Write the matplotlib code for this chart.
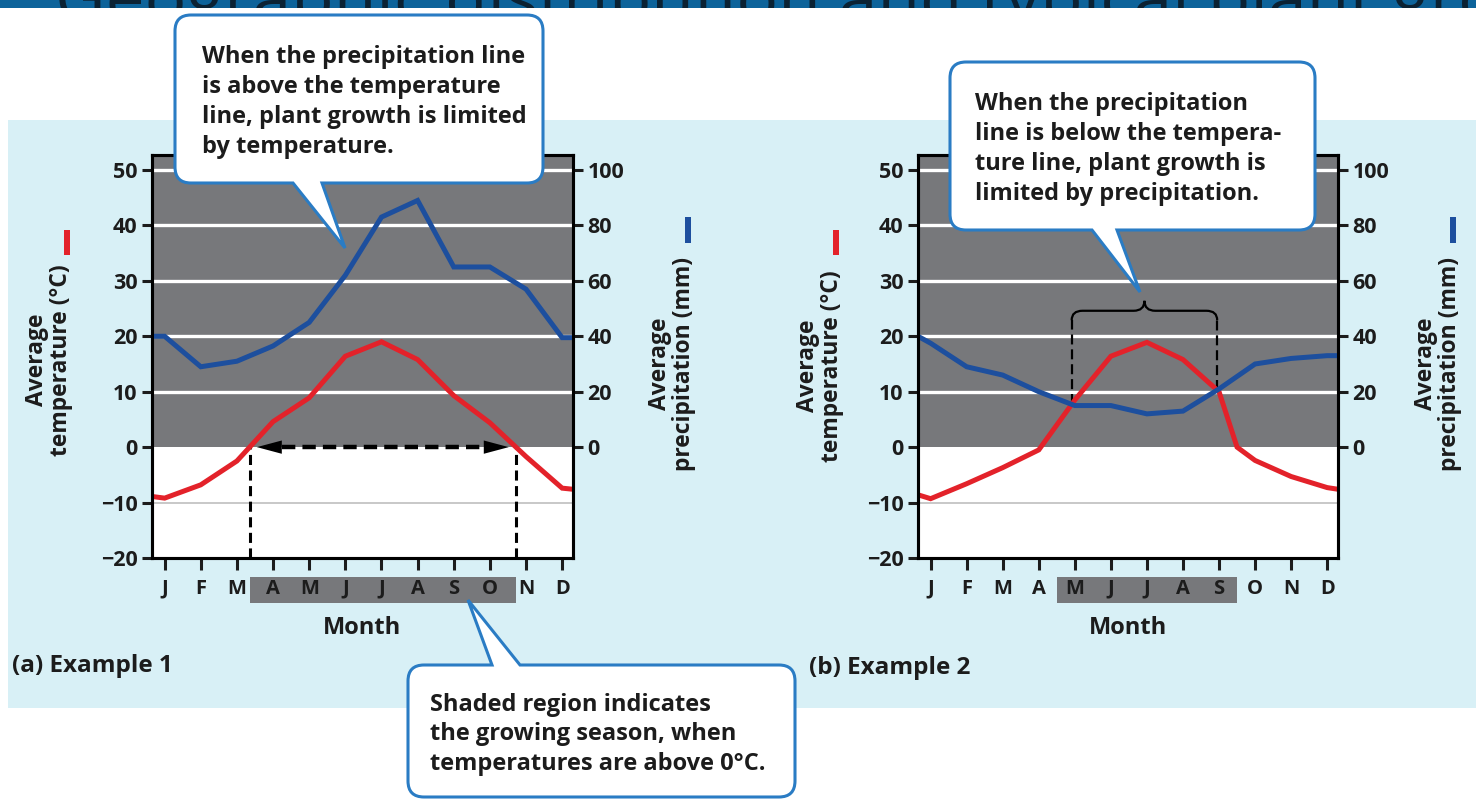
"""
Climate diagrams: average temperature vs. average precipitation,
two examples with the growing season marked.
"""
import numpy as np
import matplotlib
matplotlib.use("Agg")
import matplotlib.pyplot as plt
from matplotlib.patches import Rectangle, PathPatch
from matplotlib.path import Path
from matplotlib.transforms import blended_transform_factory

W, H = 1476, 800

plt.rcParams['font.family'] = ['Open Sans', 'DejaVu Sans']
plt.rcParams['font.weight'] = 'bold'

RED = '#e3222a'
BLUE = '#1d4f9e'
GRAY = '#77787b'
BG = '#d8f0f6'
EDGE = '#2a7cc4'
INK = '#1c1c1c'

months = ['J', 'F', 'M', 'A', 'M', 'J', 'J', 'A', 'S', 'O', 'N', 'D']
temp_ticks = [-20, -10, 0, 10, 20, 30, 40, 50]
prec_ticks = [0, 20, 40, 60, 80, 100]
temp_lim = (-20, 52.7)

# (a) Example 1
ex1_temp_x = [-0.35, 0, 1, 2, 3, 4, 5, 6, 7, 8, 9, 10, 11, 11.3]
ex1_temp   = [-8.9, -9.2, -6.8, -2.5, 4.6, 8.9, 16.4, 19.0, 15.8, 9.3, 4.4, -1.7, -7.4, -7.6]
ex1_prec_x = [-0.35, 0, 1, 2, 3, 4, 5, 6, 7, 8, 9, 10, 11, 11.3]
ex1_prec   = [40, 40, 29, 31, 36.5, 45, 62, 83, 89, 65, 65, 57, 39.5, 39.5]

# (b) Example 2
ex2_temp_x = [-0.35, 0, 1, 2, 3, 4, 5, 6, 7, 8, 8.5, 9, 10, 11, 11.3]
ex2_temp   = [-8.6, -9.3, -6.6, -3.7, -0.5, 8.5, 16.4, 18.9, 15.8, 10.0, 0.0, -2.4, -5.3, -7.3, -7.6]
ex2_prec_x = [-0.35, 0, 1, 2, 3, 4, 5, 6, 7, 8, 9, 10, 11, 11.3]
ex2_prec   = [40, 37.5, 29, 26, 20, 15, 15, 12, 13, 21, 30, 32, 33, 33]
ex2_season = ('M', 'S')  # highlighted month labels (May..Sep)

callout_a = ["When the precipitation line",
             "is above the temperature",
             "line, plant growth is limited",
             "by temperature."]
callout_b = ["When the precipitation",
             "line is below the tempera-",
             "ture line, plant growth is",
             "limited by precipitation."]
callout_c = ["Shaded region indicates",
             "the growing season, when",
             "temperatures are above 0\u00b0C."]


def fx(px):
    return px / W


def fy(py):
    return 1 - py / H


def crossings(xa, ya, xb, yb):
    xs = np.linspace(max(xa[0], xb[0]), min(xa[-1], xb[-1]), 4001)
    d = np.interp(xs, xa, ya) - np.interp(xs, xb, yb)
    idx = np.where(np.diff(np.sign(d)) != 0)[0]
    return [xs[i] - d[i] * (xs[i + 1] - xs[i]) / (d[i + 1] - d[i]) for i in idx]


fig = plt.figure(figsize=(W / 100, H / 100), dpi=100)
fig.patch.set_facecolor('white')

# light blue page panel and the clipped banner at the very top
fig.add_artist(Rectangle((fx(8), fy(708)), 1 - fx(8), (708 - 120) / H,
                         transform=fig.transFigure, color=BG, lw=0, zorder=-10))
band = Rectangle((0, fy(8)), 1, 8 / H, transform=fig.transFigure,
                 color='#0d639a', lw=0, zorder=1)
fig.add_artist(band)
ttl = fig.text(fx(55), fy(22), 'Geographic distribution and typical plant growth',
               fontsize=50, fontweight='normal', color='#0b2233', va='baseline', zorder=2)
ttl.set_clip_path(band)


def panel(left_px, right_px, tx, t, px_, p):
    ax = fig.add_axes([fx(left_px), fy(558), fx(right_px) - fx(left_px), (558 - 155) / H])
    ax.set_facecolor('white')
    ax.set_xlim(-0.35, 11.3)
    ax.set_ylim(*temp_lim)
    ax.axhspan(0, temp_lim[1] + 5, color=GRAY, lw=0, zorder=0)
    for v in temp_ticks:
        if v > 0:
            ax.axhline(v, color='white', lw=2.4, zorder=1)
        elif v < 0 and v > temp_lim[0]:
            ax.axhline(v, color='#c4c4c4', lw=1.3, zorder=1)
    ax.plot(tx, t, color=RED, lw=3.6, solid_joinstyle='miter', zorder=2.2)

    ax.set_xticks(range(len(months)))
    ax.set_xticklabels(months)
    ax.set_yticks(temp_ticks)
    ax.tick_params(axis='x', length=8.5, width=2.2, pad=6.5, labelsize=14.5, colors=INK)
    ax.tick_params(axis='y', length=7.5, width=2.2, pad=3, labelsize=15.5, colors=INK)
    for s in ax.spines.values():
        s.set_linewidth(2.2)
        s.set_color('black')

    ax2 = ax.twinx()
    ax2.set_ylim(temp_lim[0] * 2, temp_lim[1] * 2)
    ax2.set_yticks(prec_ticks)
    ax2.tick_params(axis='y', length=7.5, width=2.2, pad=3, labelsize=15.5, colors=INK)
    ax2.plot(px_, p, color=BLUE, lw=3.6, solid_joinstyle='miter', zorder=2.2)
    for s in ax2.spines.values():
        s.set_linewidth(2.2)
        s.set_color('black')
    return ax, ax2


def season_band(ax, b0, b1):
    tr = blended_transform_factory(ax.transData, ax.transAxes)
    ax.add_patch(Rectangle((b0, -0.047), b1 - b0, -0.065, transform=tr,
                           clip_on=False, color=GRAY, lw=0, zorder=1))


def bubble(x0, y0, x1, y1, r, side, b0, b1, tip):
    verts, codes = [], []

    def P(x, y):
        return (fx(x), fy(y))

    def mv(x, y):
        verts.append(P(x, y)); codes.append(Path.MOVETO)

    def ln(x, y):
        verts.append(P(x, y)); codes.append(Path.LINETO)

    def cv(cx, cy, x, y):
        verts.extend([P(cx, cy), P(x, y)]); codes.extend([Path.CURVE3] * 2)

    mv(x0 + r, y0)
    if side == 'top':
        ln(b0, y0); ln(*tip); ln(b1, y0)
    ln(x1 - r, y0)
    cv(x1, y0, x1, y0 + r)
    ln(x1, y1 - r)
    cv(x1, y1, x1 - r, y1)
    if side == 'bottom':
        ln(b1, y1); ln(*tip); ln(b0, y1)
    ln(x0 + r, y1)
    cv(x0, y1, x0, y1 - r)
    ln(x0, y0 + r)
    cv(x0, y0, x0 + r, y0)
    verts.append(P(x0 + r, y0)); codes.append(Path.CLOSEPOLY)
    fig.add_artist(PathPatch(Path(verts, codes), transform=fig.transFigure,
                             facecolor='white', edgecolor=EDGE, lw=2.2,
                             joinstyle='miter', zorder=10))


def lines_text(x, y0, dy, lines, size=17):
    for i, s in enumerate(lines):
        fig.text(fx(x), fy(y0 + i * dy), s, fontsize=size, color=INK,
                 ha='left', va='baseline', zorder=11)


def axis_label(x, y, s, bar_color, bar_x, bar_y0, bar_y1):
    fig.text(fx(x), fy(y), s, rotation=90, ha='center', va='center',
             multialignment='center', fontsize=16.5, linespacing=1.0, color=INK)
    fig.add_artist(Rectangle((fx(bar_x - 3), fy(bar_y1)), 6 / W, (bar_y1 - bar_y0) / H,
                             transform=fig.transFigure, color=bar_color, lw=0))


# ---- (a) Example 1 ----
ax_a, ax_a2 = panel(152, 573, ex1_temp_x, ex1_temp, ex1_prec_x, ex1_prec)
c0, c1 = crossings(ex1_temp_x, ex1_temp, [ex1_temp_x[0], ex1_temp_x[-1]], [0, 0])
season_band(ax_a, c0, c1)
ax_a.vlines([c0, c1], temp_lim[0], 0, colors='black', lw=2.2,
            linestyles=[(0, (3.3, 1.8))], zorder=2.1)
hl, hw, off = 0.69, 1.2, 0.2
ax_a.plot([c0 + off + hl, c1 - off - hl], [0, 0], color='black', lw=3.2,
          linestyle=(0, (3.0, 1.6)), dash_capstyle='butt', zorder=4)
ax_a.fill([c0 + off, c0 + off + hl, c0 + off + hl], [0, hw, -hw], color='black', lw=0, zorder=4)
ax_a.fill([c1 - off, c1 - off - hl, c1 - off - hl], [0, hw, -hw], color='black', lw=0, zorder=4)

# ---- (b) Example 2 ----
ax_b, ax_b2 = panel(918, 1338, ex2_temp_x, ex2_temp, ex2_prec_x, ex2_prec)
i0 = months.index(ex2_season[0], 3)
i1 = months.index(ex2_season[1])
season_band(ax_b, i0 - 0.5, i1 + 0.5)
half_prec = [v / 2 for v in ex2_prec]
k0, k1 = crossings(ex2_temp_x, ex2_temp, ex2_prec_x, half_prec)
t0 = np.interp(k0, ex2_temp_x, ex2_temp)
t1 = np.interp(k1, ex2_temp_x, ex2_temp)
yb, drop, rise, cx = 24.6, 1.7, 1.8, 0.3
km = (k0 + k1) / 2
ax_b.vlines([k0, k1], [t0, t1], yb - drop, colors='black', lw=1.6,
            linestyles=[(0, (4.5, 2.2))], zorder=2.1)
brace = Path([(k0, yb - drop), (k0, yb), (k0 + cx, yb), (km - cx, yb),
              (km, yb), (km, yb + rise), (km, yb), (km + cx, yb),
              (k1 - cx, yb), (k1, yb), (k1, yb - drop)],
             [Path.MOVETO, Path.CURVE3, Path.CURVE3, Path.LINETO,
              Path.CURVE3, Path.CURVE3, Path.CURVE3, Path.CURVE3,
              Path.LINETO, Path.CURVE3, Path.CURVE3])
ax_b.add_patch(PathPatch(brace, facecolor='none', edgecolor='black', lw=1.6, zorder=2.1))

# ---- axis titles and labels ----
axis_label(49, 360, 'Average\ntemperature (\u00b0C)', RED, 67, 230, 255)
axis_label(672, 364, 'Average\nprecipitation (mm)', BLUE, 688, 217, 243)
axis_label(820, 366, 'Average\ntemperature (\u00b0C)', RED, 836, 230, 255)
axis_label(1438, 364, 'Average\nprecipitation (mm)', BLUE, 1453, 217, 243)

fig.text(fx(362), fy(628), 'Month', ha='center', va='center', fontsize=17, color=INK)
fig.text(fx(1128), fy(628), 'Month', ha='center', va='center', fontsize=17, color=INK)
fig.text(fx(12), fy(666), '(a) Example 1', ha='left', va='center', fontsize=17.5, color=INK)
fig.text(fx(809), fy(668), '(b) Example 2', ha='left', va='center', fontsize=17.5, color=INK)

# ---- callouts ----
bubble(175, 15, 543, 183, 16, 'bottom', 293, 322, (345, 248))
lines_text(202, 63, 30, callout_a)
bubble(950, 62, 1315, 230, 16, 'bottom', 1092, 1117, (1140, 292))
lines_text(975, 110, 30, callout_b)
bubble(408, 665, 795, 797, 16, 'top', 492, 520, (468, 600))
lines_text(430, 711, 29.5, callout_c)

fig.savefig('out.png', dpi=100, facecolor=fig.get_facecolor())
